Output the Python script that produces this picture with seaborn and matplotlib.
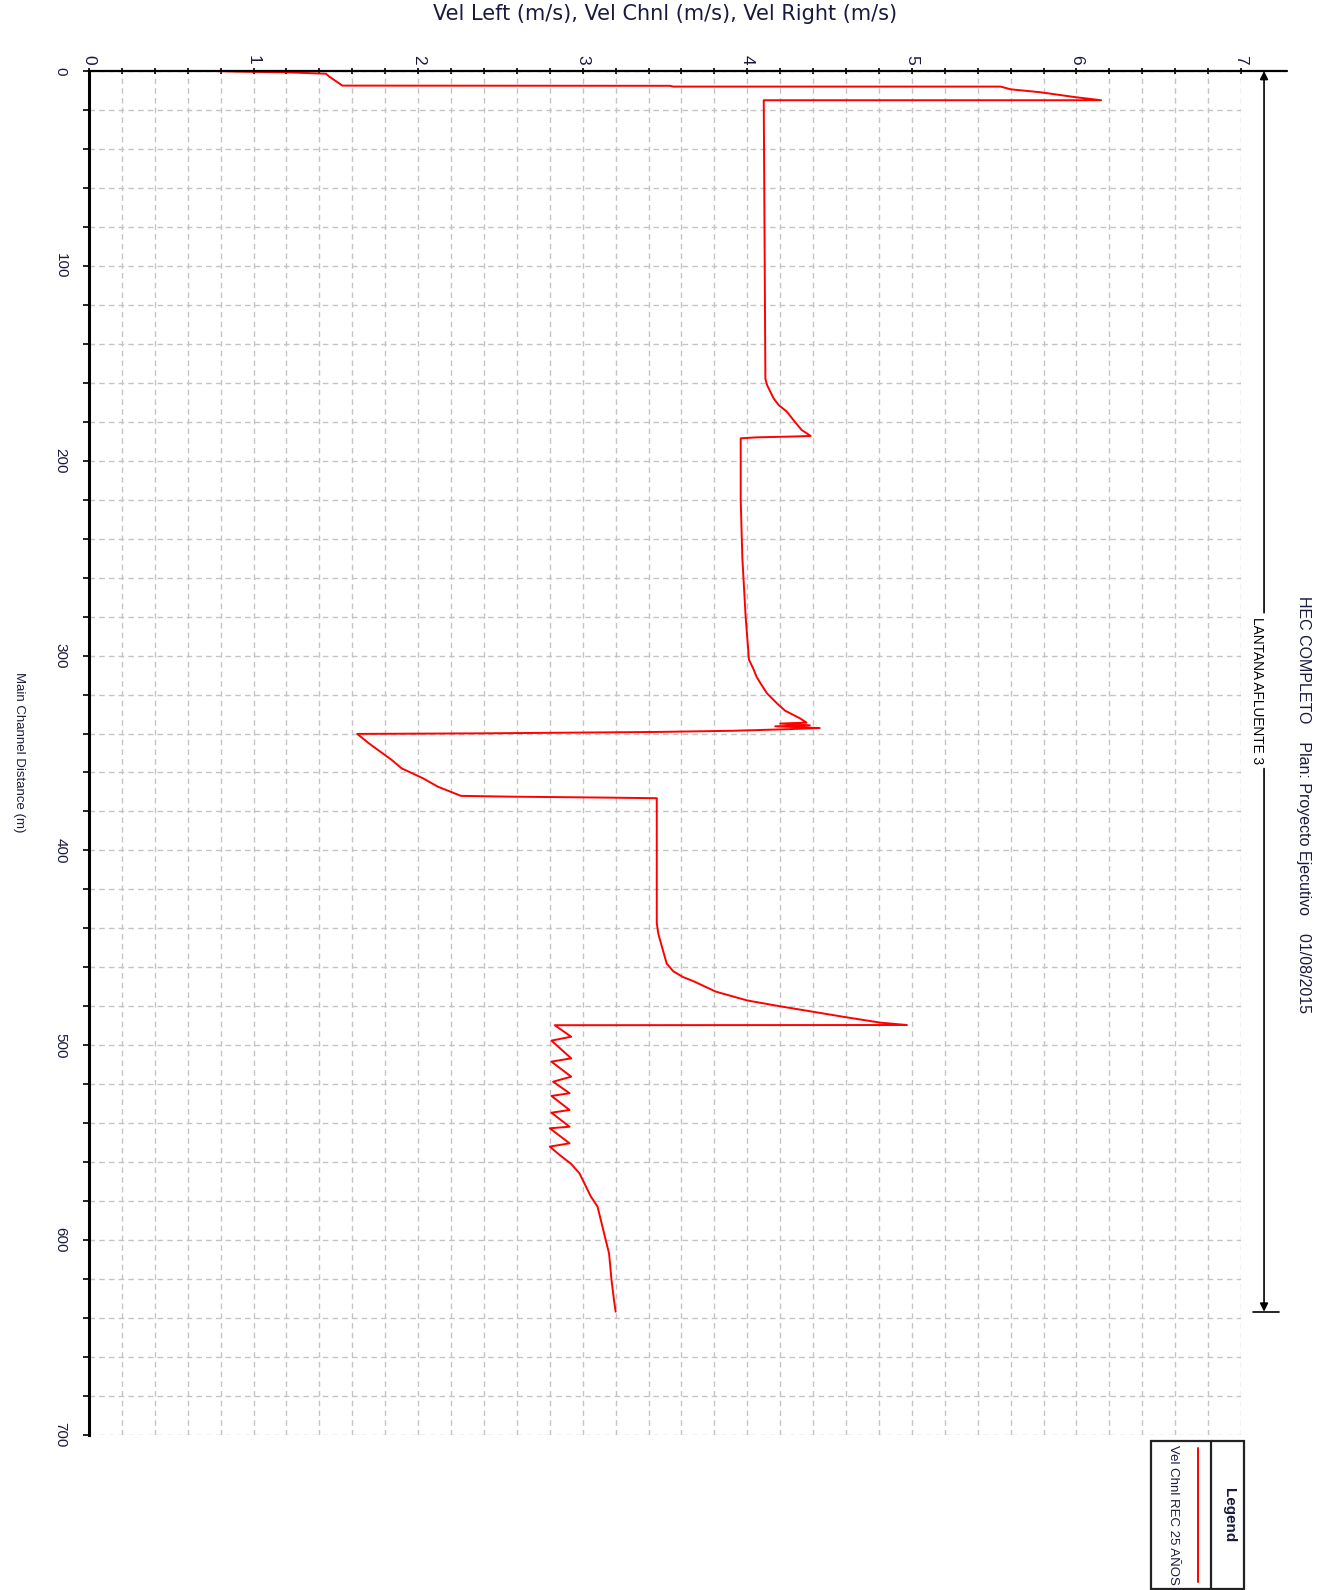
import matplotlib
matplotlib.use("Agg")
import matplotlib.pyplot as plt
import numpy as np
import pandas as pd
import seaborn as sns
from matplotlib.patches import Rectangle
from matplotlib.lines import Line2D

# Main channel velocity profile (m/s) against main channel distance (m)
distance = [0.0, 0.0, 0.3, 0.7, 1.4, 2.9, 7.5, 7.6, 8.0, 8.0, 9.4, 10.9, 13.5, 15.0,
            15.0, 158.0, 161.1, 164.6, 168.0, 171.4, 174.8, 179.1, 184.2, 187.3,
            187.6, 188.0, 188.5, 220.0, 250.0, 280.0, 302.0, 307.4, 310.8, 314.2,
            319.4, 324.5, 328.3, 332.2, 334.4, 334.9, 335.8, 336.3, 337.2, 337.8,
            338.6, 339.2, 339.9, 340.2, 345.0, 353.6, 357.9, 363.0, 367.3, 372.0,
            372.4, 372.9, 373.2, 437.4, 443.0, 452.0, 458.0, 462.0, 465.0, 467.0,
            472.5, 477.0, 480.0, 482.8, 485.6, 488.4, 489.6, 489.7, 495.6, 497.6,
            506.7, 508.4, 516.1, 518.7, 524.6, 526.0, 533.2, 534.6, 541.8, 542.6,
            550.3, 552.0, 556.3, 560.9, 565.7, 570.8, 577.7, 582.8, 591.4, 600.0,
            606.8, 620.4, 630.7, 636.7]
vel_chnl = [0.69, 0.77, 0.89, 1.21, 1.44, 1.46, 1.54, 3.53, 3.55, 5.54, 5.60, 5.78, 6.00, 6.15,
            4.10, 4.11, 4.12, 4.14, 4.16, 4.19, 4.24, 4.28, 4.33, 4.385,
            4.27, 4.06, 3.96, 3.96, 3.97, 3.99, 4.01, 4.04, 4.056, 4.08,
            4.12, 4.18, 4.23, 4.32, 4.36, 4.20, 4.38, 4.17, 4.44, 4.24,
            3.91, 3.45, 2.41, 1.63, 1.70, 1.84, 1.90, 2.03, 2.12, 2.26,
            2.56, 3.15, 3.45, 3.45, 3.46, 3.49, 3.51, 3.55, 3.61, 3.67,
            3.81, 4.00, 4.20, 4.40, 4.60, 4.81, 4.97, 2.83, 2.93, 2.81,
            2.93, 2.81, 2.93, 2.82, 2.92, 2.81, 2.92, 2.81, 2.92, 2.80,
            2.92, 2.80, 2.86, 2.93, 2.98, 3.01, 3.05, 3.09, 3.115, 3.14,
            3.16, 3.175, 3.19, 3.20]

vel_ticks = [0, 1, 2, 3, 4, 5, 6, 7]
dist_ticks = [0, 100, 200, 300, 400, 500, 600, 700]

title = "HEC COMPLETO    Plan: Proyecto Ejecutivo    01/08/2015"
reach_name = "LANTANA AFLUENTE 3"
series_name = "Vel Chnl REC 25 AÑOS"
vel_label = "Vel Left (m/s), Vel Chnl (m/s), Vel Right (m/s)"
dist_label = "Main Channel Distance (m)"

sns.set_theme(style="white")
plt.rcParams["font.family"] = ["Liberation Sans", "DejaVu Sans"]

W, H = 1322, 1590
fig = plt.figure(figsize=(W / 100, H / 100), dpi=100)
fig.patch.set_facecolor("white")
INK = "#1a1a40"


def fx(px):
    return px / W


def fy(py):
    return 1 - py / H


ax = fig.add_axes([fx(89), fy(1435), fx(1241) - fx(89), fy(71) - fy(1435)])
ax.set_facecolor("white")

df = pd.DataFrame({"vel": vel_chnl, "dist": distance})
sns.lineplot(data=df, x="vel", y="dist", sort=False, estimator=None,
             color="#ff0000", lw=1.4, ax=ax, legend=False)

ax.set_xlim(vel_ticks[0], vel_ticks[-1])
ax.set_ylim(dist_ticks[-1], dist_ticks[0])

# velocity axis along the top, distance axis on the left
ax.xaxis.tick_top()
ax.set_xticks(vel_ticks)
ax.set_xticks(np.arange(0, 7.01, 0.2), minor=True)
ax.set_yticks(dist_ticks)
ax.set_yticks(np.arange(0, 701, 20), minor=True)
ax.set_xticklabels([str(v) for v in vel_ticks], rotation=-90, fontsize=12.5,
                   color=INK)
ax.set_yticklabels([str(d) for d in dist_ticks], rotation=-90, fontsize=11,
                   va="center", color=INK)
ax.tick_params(axis="x", which="both", direction="inout", length=5, width=1.2,
               color="black", top=True, bottom=False, pad=2)
ax.tick_params(axis="y", which="both", direction="out", length=4.5, width=1.2,
               color="black", left=True, pad=11)
ax.set_xlabel("")
ax.set_ylabel("")

ax.grid(which="both", color="#c4c4c4", lw=1.0, ls=(0, (4, 3)))
for s in ("right", "bottom"):
    ax.spines[s].set_visible(False)
ax.spines["left"].set_color("black")
ax.spines["left"].set_linewidth(2.2)
ax.spines["top"].set_color("black")
ax.spines["top"].set_linewidth(1.6)
ax.set_axisbelow(True)

# top axis line runs on past the last velocity tick
ax.plot([vel_ticks[-1], 7.28], [0, 0], color="black", lw=1.6, clip_on=False)

# reach extent marker with its name
reach_x = 7.14
reach_top, reach_bot = distance[0], distance[-1]
label_mid = 318
gap = 40
arrow_kw = dict(arrowstyle="-|>", color="black", lw=1.2, mutation_scale=12,
                shrinkA=0, shrinkB=0)
ax.annotate("", xy=(reach_x, reach_top), xytext=(reach_x, label_mid - gap),
            arrowprops=arrow_kw, annotation_clip=False)
ax.annotate("", xy=(reach_x, reach_bot), xytext=(reach_x, label_mid + gap),
            arrowprops=arrow_kw, annotation_clip=False)
ax.plot([7.07, 7.23], [reach_bot, reach_bot], color="black", lw=1.2, clip_on=False)
ax.text(7.096, label_mid, reach_name, rotation=-90, ha="center", va="center",
        fontsize=9.8, color="black", clip_on=False)

# titles
fig.text(fx(1304), fy(805), title, rotation=-90, ha="center", va="center",
         fontsize=11.5, color=INK)
fig.text(fx(665), fy(14), vel_label, ha="center", va="center", fontsize=15,
         family=["DejaVu Sans"], color=INK)
fig.text(fx(19), fy(752), dist_label, rotation=-90, ha="center", va="center",
         fontsize=9.5, color=INK)

# legend box
lx0, lx1, ly0, ly1, ldiv = 1151, 1244, 1441, 1589, 1211
fig.add_artist(Rectangle((fx(lx0), fy(ly1)), fx(lx1) - fx(lx0), fy(ly0) - fy(ly1),
                         transform=fig.transFigure, fill=False, ec="#222222", lw=1.6))
fig.add_artist(Line2D([fx(ldiv), fx(ldiv)], [fy(ly0), fy(ly1)],
                      transform=fig.transFigure, color="#222222", lw=1.6))
fig.add_artist(Line2D([fx(1198), fx(1198)], [fy(1448), fy(1582)],
                      transform=fig.transFigure, color="#ff0000", lw=1.4))
fig.text(fx(1229), fy(1515), "Legend", rotation=-90, ha="center", va="center",
         fontsize=11, fontweight="bold", color=INK)
fig.text(fx(1173), fy(1515), series_name, rotation=-90, ha="center", va="center",
         fontsize=9.5, color=INK)

fig.savefig("out.png", dpi=100, facecolor="white")
